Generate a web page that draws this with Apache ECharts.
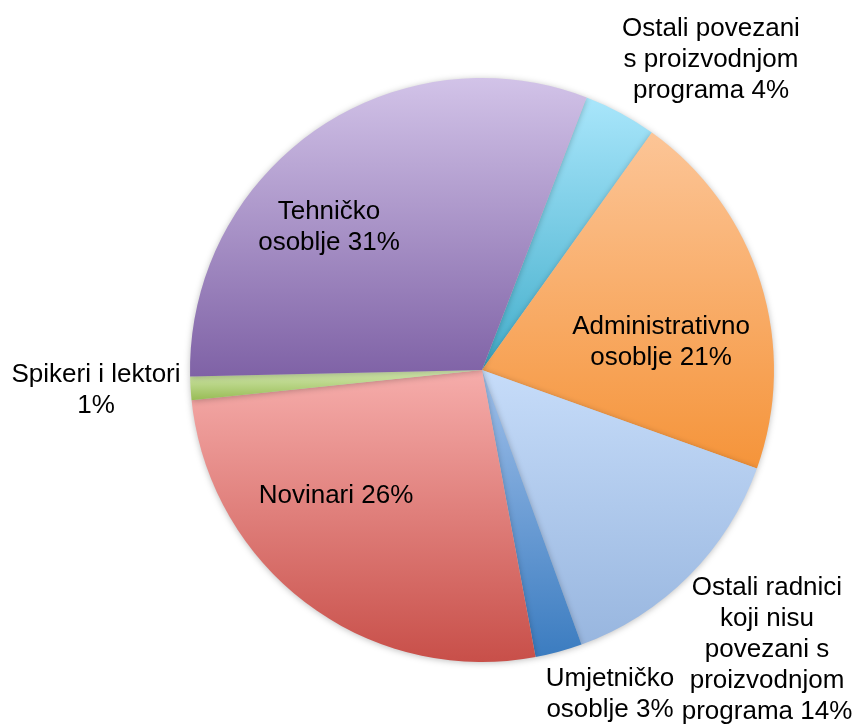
<!DOCTYPE html>
<html>
<head>
<meta charset="utf-8">
<script src="https://cdn.jsdelivr.net/npm/echarts@6/dist/echarts.min.js"></script>
<style>
html,body{margin:0;padding:0;background:#fff;}
#c{width:861px;height:726px;}
</style>
</head>
<body>
<div id="c"></div>
<script>
// Data
const categories = [
  'Ostali povezani s proizvodnjom programa',
  'Administrativno osoblje',
  'Ostali radnici koji nisu povezani s proizvodnjom programa',
  'Umjetničko osoblje',
  'Novinari',
  'Spikeri i lektori',
  'Tehničko osoblje'
];
const labelTexts = [
  'Ostali povezani\ns proizvodnjom\nprograma ',
  'Administrativno\nosoblje ',
  'Ostali radnici\nkoji nisu\npovezani s\nproizvodnjom\nprograma ',
  'Umjetničko\nosoblje ',
  'Novinari ',
  'Spikeri i lektori\n',
  'Tehničko\nosoblje '
];
const values = [4.05, 20.6, 14.0, 2.6, 26.3, 1.3, 31.2];
const gradTop = ['#a9e6fb', '#fcc597', '#c6dcf9', '#a0c0ea', '#f6adab', '#d6ebb3', '#d2c3e8'];
const gradBottom = ['#43aecb', '#f5943a', '#98b6df', '#3b7cc0', '#c84f49', '#98bc55', '#7f62a6'];
// label centres (layout only)
const labelPos = [[711, 60], [661, 342], [767, 650], [610, 694], [336, 496], [96, 390], [329, 227]];

const chart = echarts.init(document.getElementById('c'));
chart.setOption({
  animation: false,
  series: [{
    type: 'pie',
    center: [482, 370],
    radius: 292,
    startAngle: 69,
    clockwise: true,
    avoidLabelOverlap: false,
    itemStyle: {
      borderWidth: 0,
      shadowBlur: 6,
      shadowColor: 'rgba(0,0,0,0.25)',
      shadowOffsetY: 1
    },
    label: {
      show: true,
      position: 'inside',
      color: '#000',
      fontFamily: '"Liberation Sans", Arial, sans-serif',
      fontSize: 26,
      lineHeight: 31,
      align: 'center',
      formatter: function (p) {
        return labelTexts[p.dataIndex] + Math.round(p.percent) + '%';
      }
    },
    labelLine: { show: false },
    labelLayout: function (p) {
      const pos = labelPos[p.dataIndex];
      return { x: pos[0], y: pos[1], align: 'center', verticalAlign: 'middle' };
    },
    emphasis: { disabled: true },
    data: categories.map(function (c, i) {
      return {
        name: c,
        value: values[i],
        itemStyle: {
          color: new echarts.graphic.LinearGradient(0, 0, 0, 1, [
            { offset: 0, color: gradTop[i] },
            { offset: 1, color: gradBottom[i] }
          ])
        }
      };
    })
  }]
});
</script>
</body>
</html>
